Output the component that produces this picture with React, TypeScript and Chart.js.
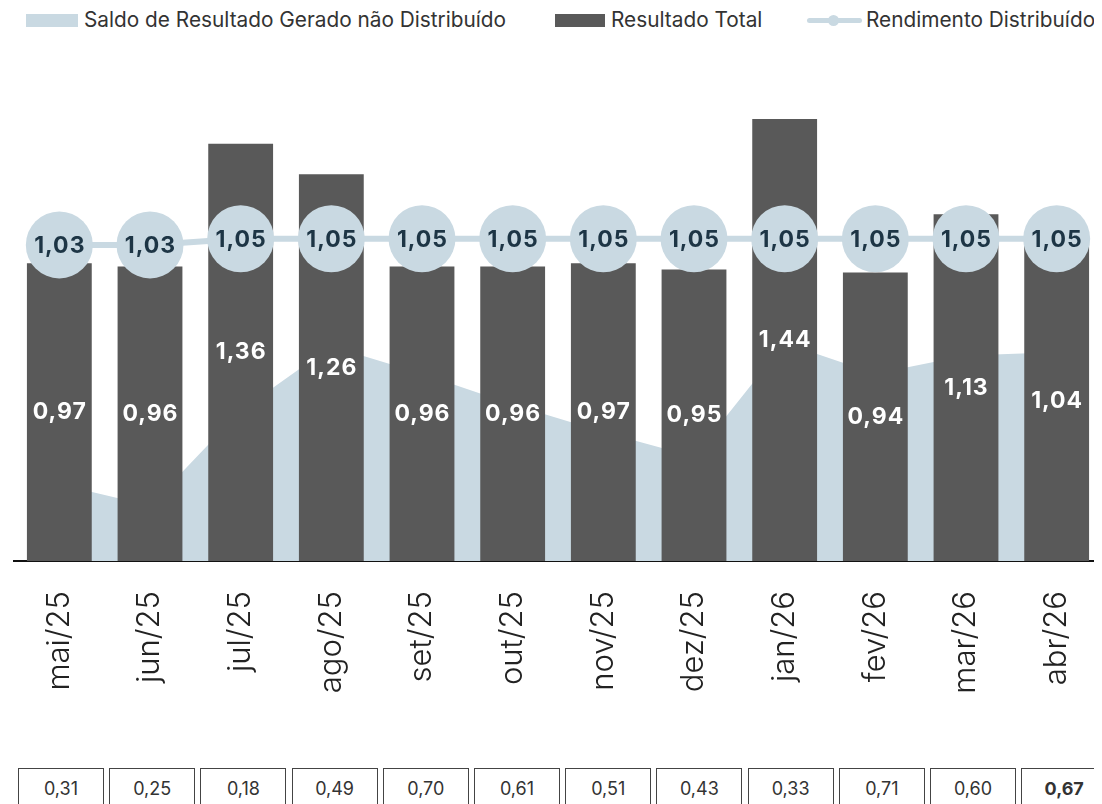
import React, { useEffect, useRef } from "react";
import { Chart, registerables } from "chart.js";

Chart.register(...registerables);

const categories = ["mai/25", "jun/25", "jul/25", "ago/25", "set/25", "out/25", "nov/25", "dez/25", "jan/26", "fev/26", "mar/26", "abr/26"];
const resultadoTotal = [0.97, 0.96, 1.36, 1.26, 0.96, 0.96, 0.97, 0.95, 1.44, 0.94, 1.13, 1.04];
const rendimentoDistribuido = [1.03, 1.03, 1.05, 1.05, 1.05, 1.05, 1.05, 1.05, 1.05, 1.05, 1.05, 1.05];
const saldoNaoDistribuido = [0.25, 0.18, 0.49, 0.7, 0.61, 0.51, 0.42, 0.34, 0.71, 0.61, 0.67, 0.68];
const saldoTabela = [0.31, 0.25, 0.18, 0.49, 0.7, 0.61, 0.51, 0.43, 0.33, 0.71, 0.6, 0.67];

const legendLabels = ["Saldo de Resultado Gerado não Distribuído", "Resultado Total", "Rendimento Distribuído"];

const AREA = "#c9d9e2";
const BAR = "#595959";
const NAVY = "#1d3545";
const FONT = "Inter, 'DejaVu Sans', sans-serif";

const fmt = (v: number) => v.toFixed(2).replace(".", ",");

const labelPlugin = {
  id: "valueLabels",
  afterDatasetsDraw(chart: any) {
    const ctx = chart.ctx;
    ctx.save();
    ctx.textAlign = "center";
    ctx.textBaseline = "middle";
    try {
      (ctx as any).letterSpacing = "1px";
    } catch (e) {}
    const barMeta = chart.getDatasetMeta(1);
    ctx.fillStyle = "#ffffff";
    ctx.font = `700 23px ${FONT}`;
    barMeta.data.forEach((el: any, i: number) => {
      const p = el.getProps(["x", "y", "base"], true);
      ctx.fillText(fmt(resultadoTotal[i]), p.x + 0.5, (p.y + p.base) / 2);
    });
    const lineMeta = chart.getDatasetMeta(2);
    ctx.fillStyle = NAVY;
    lineMeta.data.forEach((el: any, i: number) => {
      const p = el.getProps(["x", "y"], true);
      ctx.fillText(fmt(rendimentoDistribuido[i]), p.x + 0.5, p.y + 1);
    });
    ctx.restore();
  },
};

export default function App() {
  const ref = useRef<HTMLCanvasElement | null>(null);

  useEffect(() => {
    document.documentElement.style.overflow = "hidden";
    const canvas = ref.current;
    if (!canvas) return;
    const chart = new Chart(canvas, {
      type: "bar",
      data: {
        labels: categories,
        datasets: [
          {
            type: "line",
            label: legendLabels[0],
            data: saldoNaoDistribuido,
            backgroundColor: AREA,
            borderWidth: 0,
            pointRadius: 0,
            fill: "origin",
            tension: 0,
            order: 3,
          } as any,
          {
            type: "bar",
            label: legendLabels[1],
            data: resultadoTotal,
            backgroundColor: BAR,
            borderWidth: 0,
            barPercentage: 0.715,
            categoryPercentage: 1,
            order: 2,
          },
          {
            type: "line",
            label: legendLabels[2],
            data: rendimentoDistribuido,
            borderColor: AREA,
            backgroundColor: AREA,
            borderWidth: 6,
            pointRadius: 33.5,
            pointHoverRadius: 33.5,
            pointBackgroundColor: AREA,
            pointBorderWidth: 0,
            fill: false,
            tension: 0,
            clip: false,
            order: 1,
          } as any,
        ],
      },
      options: {
        animation: false,
        responsive: false,
        maintainAspectRatio: false,
        layout: { autoPadding: false, padding: { left: 6, right: 0, top: 30, bottom: 0 } },
        plugins: {
          legend: { display: false },
          tooltip: { enabled: false },
        },
        scales: {
          x: {
            grid: { display: false },
            border: { display: true, color: "#111111", width: 2 },
            ticks: {
              minRotation: 90,
              maxRotation: 90,
              padding: 22,
              color: "#222222",
              font: { family: FONT, size: 31, weight: 300 as any },
            },
            afterFit: (scale: any) => {
              scale.height = 150;
              scale.paddingLeft = 0;
              scale.paddingRight = 0;
            },
          },
          y: {
            display: false,
            min: 0,
            max: 1.6,
          },
        },
      } as any,
      plugins: [labelPlugin],
    });
    return () => chart.destroy();
  }, []);

  const legendText: React.CSSProperties = {
    position: "absolute",
    top: 0,
    height: 24,
    lineHeight: "24px",
    fontFamily: FONT,
    fontSize: 20.8,
    fontWeight: 400,
    color: "#333333",
    whiteSpace: "nowrap",
  };

  return (
    <div style={{ position: "relative", width: 1094, height: 796, overflow: "hidden", fontFamily: FONT }}>
      <div style={{ position: "absolute", left: 18, top: 6, width: 52, height: 13, background: AREA }} />
      <div style={{ ...legendText, left: 76 }}>{legendLabels[0]}</div>
      <div style={{ position: "absolute", left: 547, top: 6, width: 50, height: 13, background: BAR }} />
      <div style={{ ...legendText, left: 603 }}>{legendLabels[1]}</div>
      <div style={{ position: "absolute", left: 799, top: 10, width: 55, height: 5, borderRadius: 3, background: AREA }} />
      <div style={{ position: "absolute", left: 820, top: 7, width: 11, height: 11, borderRadius: "50%", background: AREA }} />
      <div style={{ ...legendText, left: 858 }}>{legendLabels[2]}</div>

      <canvas ref={ref} width={1094} height={671} style={{ position: "absolute", left: 0, top: 32, width: 1094, height: 671 }} />

      {saldoTabela.map((v, i) => (
        <div
          key={categories[i]}
          style={{
            position: "absolute",
            left: 10 + i * 91.2,
            top: 760,
            width: 86,
            height: 44,
            boxSizing: "border-box",
            border: "1px solid #444444",
            textAlign: "center",
            lineHeight: "40px",
            fontSize: 18,
            fontWeight: i === saldoTabela.length - 1 ? 700 : 400,
            color: "#333333",
          }}
        >
          {fmt(v)}
        </div>
      ))}
    </div>
  );
}
